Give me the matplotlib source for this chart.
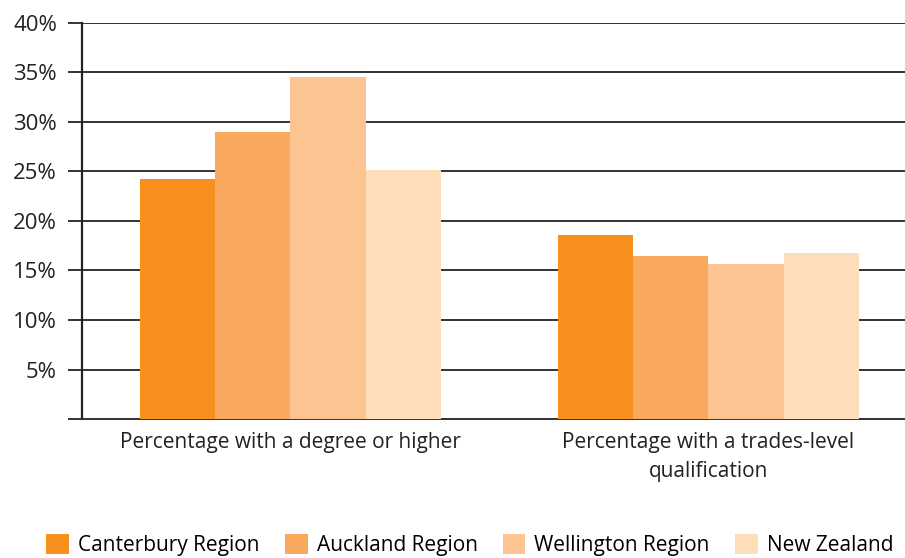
import matplotlib.pyplot as plt
import numpy as np

plt.rcParams['font.family'] = ['Open Sans', 'DejaVu Sans']

categories = ['Percentage with a degree or higher',
              'Percentage with a trades-level\nqualification']
series = ['Canterbury Region', 'Auckland Region', 'Wellington Region', 'New Zealand']
values = [
    [24.2, 18.6],
    [29.0, 16.5],
    [34.5, 15.7],
    [25.1, 16.8],
]
colors = ['#F7901E', '#F9A95E', '#FBC490', '#FDDDBA']
yticks = [0, 5, 10, 15, 20, 25, 30, 35, 40]
ytick_labels = ['', '5%', '10%', '15%', '20%', '25%', '30%', '35%', '40%']

fig = plt.figure(figsize=(9.05, 5.58), dpi=100)
ax = fig.add_axes([0.0906, 0.249, 0.9094, 0.71])

x = np.arange(len(categories))
w = 0.18
for i, (name, vals) in enumerate(zip(series, values)):
    ax.bar(x + (i - 1.5) * w, vals, w, color=colors[i], label=name, zorder=3)

ax.set_ylim(0, 40)
ax.set_xlim(-0.498, 1.47)
ax.set_yticks(yticks)
ax.set_yticklabels(ytick_labels, fontsize=16, color='#222222')
ax.yaxis.grid(True, color='#333333', linewidth=1.4, zorder=0)
ax.tick_params(axis='y', length=10, width=1.4, color='#333333', pad=8)
ax.set_xticks(x)
ax.set_xticklabels(categories, fontsize=15, color='#222222', linespacing=1.5)
ax.tick_params(axis='x', length=0, pad=9)
for s in ['top', 'right']:
    ax.spines[s].set_visible(False)
ax.spines['left'].set_color('#222222')
ax.spines['left'].set_linewidth(1.6)
ax.spines['bottom'].set_color('#333333')
ax.spines['bottom'].set_linewidth(1.4)

fig.legend(loc='center', bbox_to_anchor=(0.519, 0.024), ncol=4, frameon=False,
           fontsize=15, handlelength=1.1, handleheight=1.1, columnspacing=1.2,
           handletextpad=0.43, borderpad=0, borderaxespad=0)

fig.savefig('out.png', dpi=100)
